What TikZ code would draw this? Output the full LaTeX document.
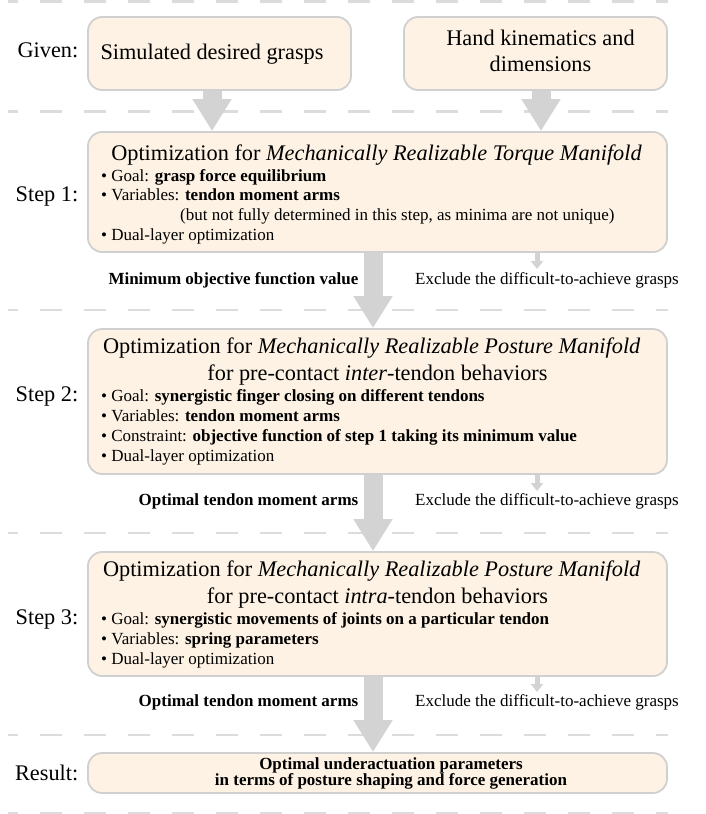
\documentclass[tikz,border=0pt]{standalone}
\usepackage{fontspec}
\setmainfont{Liberation Serif}
\usetikzlibrary{arrows.meta,backgrounds}
\definecolor{boxfill}{HTML}{FDF2E3}
\definecolor{boxline}{HTML}{D0D0D0}
\definecolor{arrowgray}{HTML}{D3D3D3}
\definecolor{dashgray}{HTML}{DCDCDC}
\newcommand{\bigfnt}{\fontsize{22.3}{26.6}\selectfont}
\newcommand{\smfnt}{\fontsize{17}{20}\selectfont}
\newcommand{\tightfnt}{\fontsize{17}{16}\selectfont\lineskiplimit=-30pt\lineskip=0pt}
\begin{document}
\begin{tikzpicture}[x=1pt,y=-1pt,
  box/.style={draw=boxline, fill=boxfill, line width=1.8pt, rounded corners=14pt, inner sep=0pt},
  big/.style={font=\bigfnt, inner sep=0pt, anchor=base},
  rowlabel/.style={font=\bigfnt, inner sep=0pt, anchor=base east},
  sm/.style={font=\smfnt, inner sep=0pt, anchor=base west},
  smb/.style={font=\smfnt\bfseries, inner sep=0pt, anchor=base east},
  restext/.style={font=\tightfnt\bfseries, inner sep=0pt, align=center},
  bigarrow/.style={draw=arrowgray, line width=19pt, -{Triangle[length=32pt,width=37pt]}},
  smallarrow/.style={draw=arrowgray, line width=5pt, -{Triangle[length=8pt,width=12pt]}},
  sepline/.style={draw=dashgray, line width=2.5pt, dash pattern=on 22pt off 22pt, dash phase=12pt}
]
\useasboundingbox (0,0) rectangle (705,814);

% boxes
\node[box, minimum width=263pt, minimum height=73pt] (g1) at (219.5,53.5) {};
\node[box, minimum width=263pt, minimum height=73pt] (g2) at (535.5,53.5) {};
\node[box, minimum width=579pt, minimum height=120pt] (s1) at (377.5,192) {};
\node[box, minimum width=579pt, minimum height=145pt] (s2) at (377.5,401.5) {};
\node[box, minimum width=579pt, minimum height=124pt] (s3) at (377.5,614) {};
\node[box, minimum width=579pt, minimum height=40pt] (res) at (377.5,773) {};

% helper coordinates
\coordinate (ax1) at (212,0);
\coordinate (ax2) at (541,0);
\coordinate (axm) at (373,0);
\coordinate (axs) at (537,0);
\coordinate (e1) at (537,269);
\coordinate (e2) at (537,491);
\coordinate (e3) at (537,692);

\begin{scope}[on background layer]
  \draw[sepline] (8,1.5) -- (668,1.5);
  \draw[sepline] (8,111.5) -- (668,111.5);
  \draw[sepline] (8,310) -- (668,310);
  \draw[sepline] (8,533) -- (668,533);
  \draw[sepline] (8,735) -- (668,735);
  \draw[sepline] (8,813) -- (668,813);
  \draw[bigarrow] (g1.south -| ax1) -- (s1.north -| ax1);
  \draw[bigarrow] (g2.south -| ax2) -- (s1.north -| ax2);
  \draw[bigarrow] (s1.south -| axm) -- (s2.north -| axm);
  \draw[bigarrow] (s2.south -| axm) -- (s3.north -| axm);
  \draw[bigarrow] (s3.south -| axm) -- (res.north -| axm);
  \draw[smallarrow] (s1.south -| axs) -- (e1);
  \draw[smallarrow] (s2.south -| axs) -- (e2);
  \draw[smallarrow] (s3.south -| axs) -- (e3);
\end{scope}

% given row
\node[rowlabel] (lg) at (78.5,57) {Given:};
\node[big] (t1) at (212,59) {Simulated desired grasps};
\node[big] (t2a) at (540.5,45) {Hand kinematics and};
\node[big] (t2b) at (540.5,71.7) {dimensions};

% step 1
\node[rowlabel] (ls1) at (78.5,201) {Step 1:};
\node[big] (s1t) at (376.5,160) {Optimization for \textit{Mechanically Realizable Torque Manifold}};
\node[sm] (s1a) at (101,181) {• Goal: \textbf{grasp force equilibrium}};
\node[sm] (s1b) at (101,200.5) {• Variables: \textbf{tendon moment arms}};
\node[sm] (s1c) at (180,220.3) {(but not fully determined in this step, as minima are not unique)};
\node[sm] (s1d) at (101,240) {• Dual-layer optimization};
\node[smb] (m1) at (358.5,284) {Minimum objective function value};
\node[sm] (x1) at (415,284) {Exclude the difficult-to-achieve grasps};

% step 2
\node[rowlabel] (ls2) at (78.5,401.7) {Step 2:};
\node[big] (s2t) at (371.7,353.3) {Optimization for \textit{Mechanically Realizable Posture Manifold}};
\node[big] (s2u) at (377.5,380) {for pre-contact \textit{inter}-tendon behaviors};
\node[sm] (s2a) at (101,401.7) {• Goal: \textbf{synergistic finger closing on different tendons}};
\node[sm] (s2b) at (101,421.7) {• Variables: \textbf{tendon moment arms}};
\node[sm] (s2c) at (101,441.7) {• Constraint: \textbf{objective function of step 1 taking its minimum value}};
\node[sm] (s2d) at (101,461.7) {• Dual-layer optimization};
\node[smb] (m2) at (358.5,505) {Optimal tendon moment arms};
\node[sm] (x2) at (415,505) {Exclude the difficult-to-achieve grasps};

% step 3
\node[rowlabel] (ls3) at (78.5,624.3) {Step 3:};
\node[big] (s3t) at (371.7,576.7) {Optimization for \textit{Mechanically Realizable Posture Manifold}};
\node[big] (s3u) at (377.5,603.3) {for pre-contact \textit{intra}-tendon behaviors};
\node[sm] (s3a) at (101,624.3) {• Goal: \textbf{synergistic movements of joints on a particular tendon}};
\node[sm] (s3b) at (101,644) {• Variables: \textbf{spring parameters}};
\node[sm] (s3d) at (101,664) {• Dual-layer optimization};
\node[smb] (m3) at (358.5,706.7) {Optimal tendon moment arms};
\node[sm] (x3) at (415,706.7) {Exclude the difficult-to-achieve grasps};

% result
\node[rowlabel] (lr) at (78.5,780) {Result:};
\node[restext] (rt) at (391,773) {Optimal underactuation parameters\\in terms of posture shaping and force generation};
\end{tikzpicture}
\end{document}
